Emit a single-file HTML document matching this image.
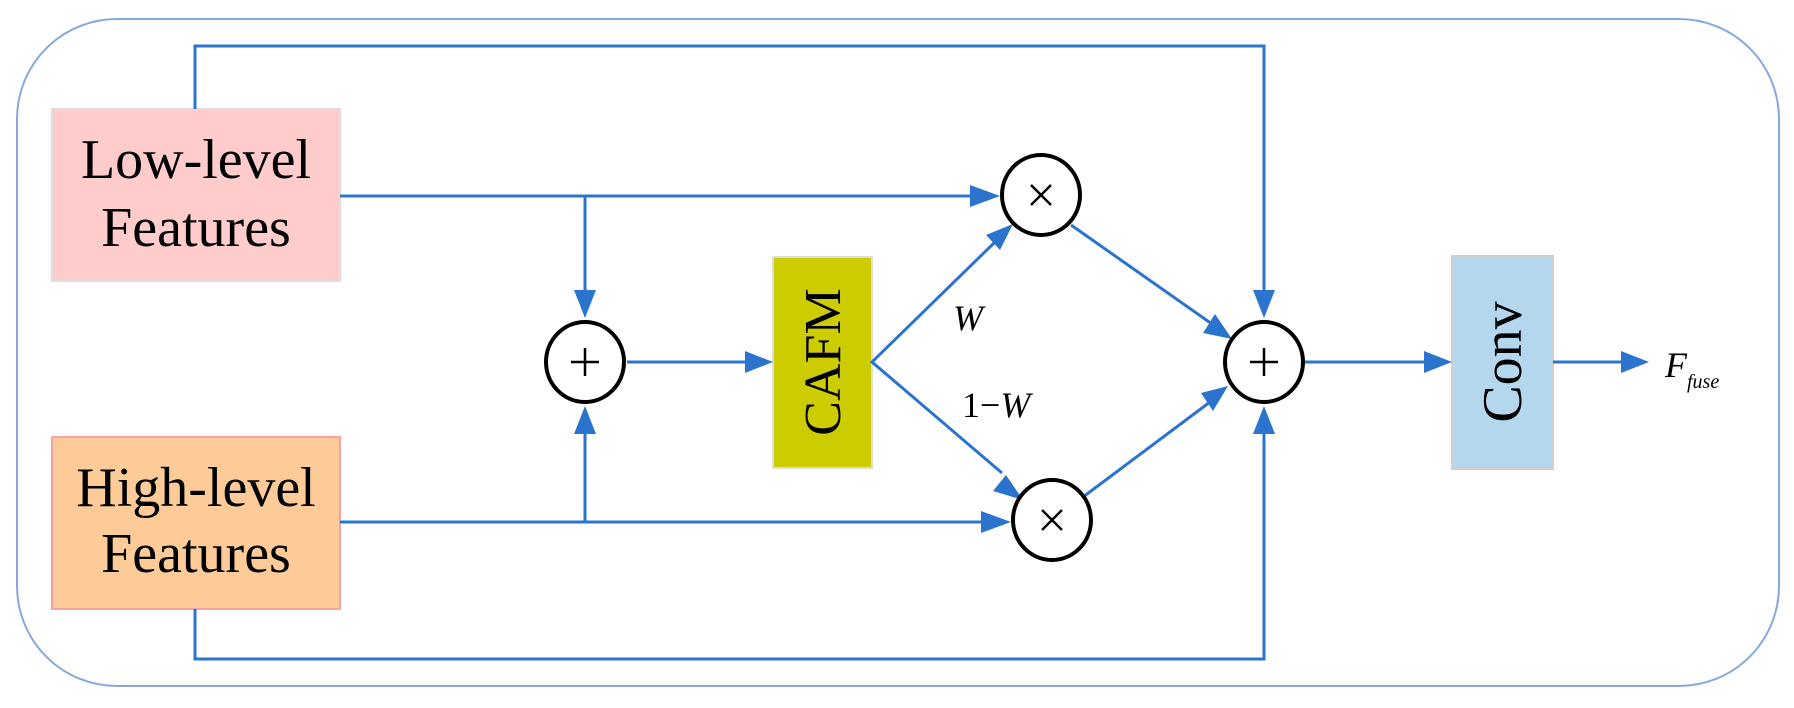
<!DOCTYPE html>
<html><head><meta charset="utf-8"><style>
html,body{margin:0;padding:0;background:#fff;}
svg{display:block;}
text{font-family:"Liberation Serif",serif;fill:#000;}
</style></head><body>
<svg width="1794" height="708" viewBox="0 0 1794 708" xmlns="http://www.w3.org/2000/svg">
<defs>
<marker id="a" markerWidth="10" markerHeight="8" refX="10" refY="4" orient="auto" markerUnits="userSpaceOnUse" viewBox="0 0 10 8">
</marker>
</defs>
<rect x="17" y="19" width="1762" height="667" rx="100" ry="100" fill="#fff" stroke="#86a9dd" stroke-width="2"/>
<!-- boxes -->
<rect x="52" y="109" width="288" height="172" fill="#ffcccc" stroke="#dddddd" stroke-width="2"/>
<rect x="52" y="437" width="288" height="172" fill="#fdcb98" stroke="#f5a3a3" stroke-width="2"/>
<rect x="773" y="257" width="99" height="211" fill="#cccc00" stroke="#dddddd" stroke-width="2"/>
<rect x="1452" y="256" width="101" height="213" fill="#b4d7ee" stroke="#d0d0d0" stroke-width="2"/>
<text x="196" y="178" font-size="56" text-anchor="middle">Low-level</text>
<text x="196" y="246" font-size="56" text-anchor="middle">Features</text>
<text x="196" y="506" font-size="56" text-anchor="middle">High-level</text>
<text x="196" y="572" font-size="56" text-anchor="middle">Features</text>
<text transform="translate(840,362) rotate(-90)" font-size="52" text-anchor="middle">CAFM</text>
<text transform="translate(1521,362) rotate(-90)" font-size="56" text-anchor="middle">Conv</text>
<text x="953" y="330" font-size="36" font-style="italic">W</text>
<text x="962" y="417" font-size="36">1−<tspan font-style="italic">W</tspan></text>
<text x="1665" y="377" font-size="36" font-style="italic">F<tspan font-size="20" dy="11">fuse</tspan></text>
<!-- lines -->
<g stroke="#2b74cd" stroke-width="3" fill="none">
<polyline points="195,109 195,46 1264,46 1264,300"/>
<polyline points="195,609 195,659 1264,659 1264,424"/>
<line x1="340" y1="196" x2="975" y2="196"/>
<line x1="340" y1="522" x2="985" y2="522"/>
<line x1="585" y1="196" x2="585" y2="296"/>
<line x1="585" y1="522" x2="585" y2="428"/>
<line x1="627" y1="362" x2="750" y2="362"/>
<polyline points="994,243 872,362 1002,473"/>
<line x1="1071" y1="225" x2="1212" y2="324"/>
<line x1="1083" y1="497" x2="1210" y2="402"/>
<line x1="1303" y1="362" x2="1428" y2="362"/>
<line x1="1553" y1="362" x2="1624" y2="362"/>
</g>
<g fill="#2b74cd">
<polygon points="1000,196 970,185 970,207"/>
<polygon points="1011,522 981,511 981,533"/>
<polygon points="585,318 574,290 596,290"/>
<polygon points="585,406 574,434 596,434"/>
<polygon points="773,362 745,351 745,373"/>
<polygon points="1264,318 1253,290 1275,290"/>
<polygon points="1264,406 1253,434 1275,434"/>
<polygon points="1452,362 1424,351 1424,373"/>
<polygon points="1649,362 1621,351 1621,373"/>
<polygon points="1013,224 1000,250 986,235"/>
<polygon points="1023,500 993,491 1006,475"/>
<polygon points="1232,339 1203,333 1215,314"/>
<polygon points="1228,386 1213,411 1201,393"/>
</g>
<!-- circles -->
<g fill="#fff" stroke="#000" stroke-width="4">
<ellipse cx="585" cy="362" rx="39" ry="40"/>
<ellipse cx="1041" cy="195" rx="39" ry="40"/>
<ellipse cx="1052" cy="520" rx="39" ry="40"/>
<ellipse cx="1264" cy="362" rx="39" ry="40"/>
</g>
<g stroke="#000" stroke-width="2.5">
<line x1="571" y1="362" x2="599" y2="362"/><line x1="585" y1="348" x2="585" y2="376"/>
<line x1="1250" y1="362" x2="1278" y2="362"/><line x1="1264" y1="348" x2="1264" y2="376"/>
<line x1="1031" y1="185" x2="1051" y2="205"/><line x1="1051" y1="185" x2="1031" y2="205"/>
<line x1="1042" y1="510" x2="1062" y2="530"/><line x1="1062" y1="510" x2="1042" y2="530"/>
</g>
</svg>
</body></html>
